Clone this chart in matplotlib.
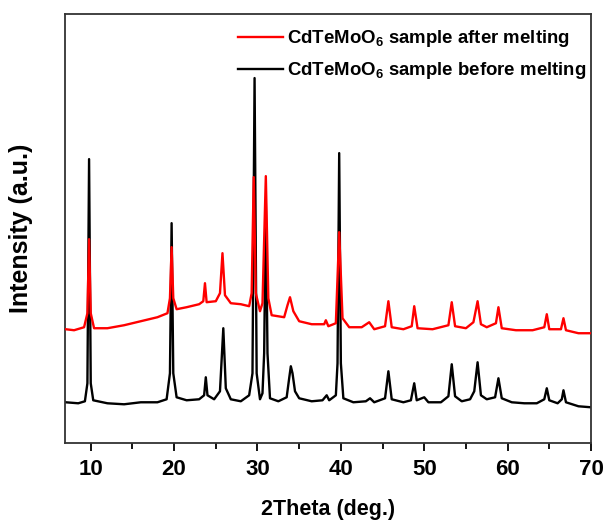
import numpy as np
from matplotlib import pyplot as plt

plt.rcParams['font.family'] = 'Liberation Sans'
plt.rcParams['font.weight'] = 'bold'
plt.rcParams['mathtext.fontset'] = 'custom'
plt.rcParams['mathtext.rm'] = 'Liberation Sans:bold'
plt.rcParams['mathtext.default'] = 'rm'

# black: sample before melting (2theta, intensity)
before_2theta = [7.0, 8.5, 9.3, 9.6, 9.8, 10.0, 10.3, 12.0, 14.0, 16.0, 18.0, 19.1, 19.5, 19.7, 19.9,
                 20.3, 21.5, 23.0, 23.6, 23.8, 24.0, 24.8, 25.5, 25.9, 26.2, 26.8, 28.0, 29.0, 29.4,
                 29.65, 29.9, 30.3, 30.6, 30.8, 31.0, 31.2, 31.5, 32.5, 33.5, 33.8, 34.0, 34.2, 34.5,
                 35.0, 36.5, 37.8, 38.3, 38.6, 39.4, 39.6, 39.8, 40.0, 40.3, 41.5, 43.0, 43.5, 44.0,
                 45.3, 45.7, 46.1, 47.5, 48.4, 48.8, 49.1, 50.0, 50.5, 52.0, 52.9, 53.3, 53.7, 54.5,
                 55.5, 56.0, 56.4, 56.8, 57.5, 58.5, 58.9, 59.3, 60.5, 62.0, 63.5, 64.4, 64.7, 65.0,
                 66.0, 66.5, 66.7, 67.0, 68.5, 70.0]
before_int = [41, 40, 42, 60, 284, 60, 43, 40, 39, 41, 41, 44, 70, 220, 70,
              46, 43, 44, 48, 66, 48, 44, 52, 115, 55, 44, 42, 48, 70,
              365, 70, 44, 50, 90, 240, 90, 45, 42, 46, 65, 77, 70, 52,
              45, 42, 43, 48, 43, 48, 80, 290, 80, 45, 41, 42, 45, 41,
              45, 72, 44, 41, 43, 60, 43, 46, 41, 41, 47, 79, 47, 42,
              44, 52, 81, 48, 44, 46, 65, 45, 41, 40, 40, 44, 55, 43,
              40, 44, 53, 41, 37, 36]

# red: sample after melting
after_2theta = [7.0, 8.0, 9.2, 9.6, 9.8, 10.0, 10.4, 12.0, 14.0, 16.0, 18.0, 19.2, 19.5, 19.7, 19.9,
                20.3, 21.5, 23.0, 23.5, 23.7, 23.9, 25.0, 25.5, 25.8, 26.1, 26.8, 28.0, 29.0, 29.3,
                29.55, 29.8, 30.3, 30.6, 31.0, 31.3, 31.7, 33.2, 33.6, 33.9, 34.3, 35.0, 36.5, 38.0,
                38.2, 38.5, 39.4, 39.8, 40.2, 41.0, 42.5, 43.4, 44.0, 45.3, 45.7, 46.1, 47.5, 48.5,
                48.8, 49.2, 51.0, 52.9, 53.3, 53.7, 55.0, 55.9, 56.4, 56.8, 57.5, 58.6, 58.9, 59.3,
                61.0, 63.0, 64.4, 64.7, 65.0, 66.4, 66.7, 67.0, 68.5, 70.0]
after_int = [114, 113, 116, 130, 204, 130, 115, 115, 118, 122, 126, 130, 145, 196, 145,
             134, 136, 139, 142, 160, 141, 142, 150, 190, 148, 140, 139, 137, 150,
             266, 150, 132, 140, 267, 145, 128, 126, 138, 146, 132, 122, 119, 119,
             123, 117, 120, 211, 125, 116, 116, 121, 114, 117, 142, 116, 114, 117,
             137, 115, 114, 118, 141, 117, 115, 121, 142, 119, 116, 120, 136, 115,
             113, 113, 116, 129, 114, 114, 125, 113, 110, 110]

labels = ['CdTeMoO$_6$ sample after melting', 'CdTeMoO$_6$ sample before melting']

fig = plt.figure(figsize=(6.07, 5.25), dpi=100)
ax = fig.add_axes([0.1076, 0.1556, 0.866, 0.8177])

ax.plot(before_2theta, before_int, c='k', lw=1.7, label=labels[1], zorder=2)
ax.plot(after_2theta, after_int, c='#ff0000', lw=1.7, label=labels[0], zorder=3)

ax.set_xlim(6.95, 70)
ax.set_ylim(0, 429)
ax.set_xticks(np.arange(10, 71, 10))
ax.set_xticks(np.arange(15, 70, 10), minor=True)
ax.set_yticks([])
ax.tick_params(axis='x', which='major', direction='out', length=6, width=1.3, labelsize=16, pad=5)
ax.tick_params(axis='x', which='minor', direction='out', length=4, width=1.3)
for sp in ax.spines.values():
    sp.set_linewidth(1.3)
    sp.set_color('#333333')

ax.set_xlabel('2Theta (deg.)', fontsize=15.5, fontweight='bold', labelpad=14)
ax.set_ylabel('Intensity (a.u.)', fontsize=18, fontweight='bold', labelpad=23)

h, l = ax.get_legend_handles_labels()
ax.legend(h[::-1], l[::-1], loc='upper right', bbox_to_anchor=(1.0, 0.978), frameon=False,
          fontsize=13.4, handlelength=2.4, handletextpad=0.2, labelspacing=0.6,
          borderaxespad=0, borderpad=0.25)

fig.savefig('out.png', dpi=100)
